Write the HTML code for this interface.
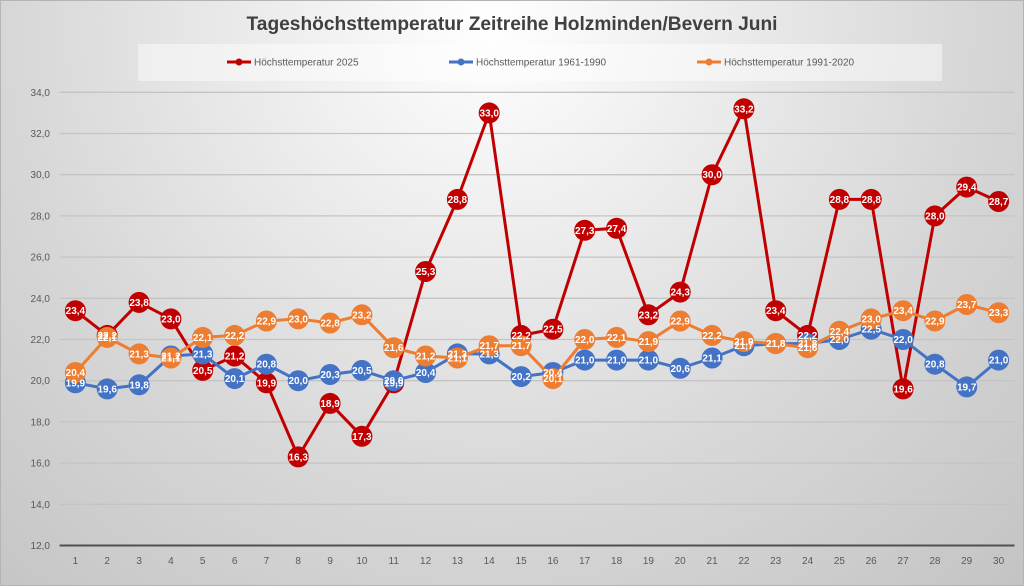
<!DOCTYPE html>
<html><head><meta charset="utf-8"><style>
html,body{margin:0;padding:0;width:1024px;height:586px;overflow:hidden;}
svg{display:block;font-family:"Liberation Sans",sans-serif;}
.yl{font-size:10px;fill:#595959;text-anchor:end;}
.xl{font-size:10px;fill:#595959;text-anchor:middle;}
.dl text{font-size:10px;font-weight:bold;fill:#fff;text-anchor:middle;}
.lg{font-size:10px;fill:#595959;}
</style></head><body>
<svg width="1024" height="586" viewBox="0 0 1024 586" xmlns="http://www.w3.org/2000/svg">
<defs>
<radialGradient id="bg" gradientUnits="userSpaceOnUse" cx="490" cy="20" r="800">
<stop offset="0" stop-color="#ffffff"/>
<stop offset="0.6" stop-color="#d7d7d7"/>
<stop offset="1" stop-color="#c2c2c2"/>
</radialGradient>
</defs>
<rect x="0" y="0" width="1024" height="586" fill="url(#bg)"/>
<rect x="0.5" y="0.5" width="1023" height="585" fill="none" stroke="#b4b4b4" stroke-width="1"/>

<text x="512" y="30" text-anchor="middle" font-size="19" font-weight="bold" fill="#404040" textLength="531" lengthAdjust="spacingAndGlyphs">Tageshöchsttemperatur Zeitreihe Holzminden/Bevern Juni</text>

<!-- legend -->
<rect x="138" y="44" width="804" height="37" fill="#ffffff" fill-opacity="0.45"/>
<line x1="227" y1="62" x2="251" y2="62" stroke="#C00000" stroke-width="3"/>
<circle cx="239" cy="62" r="3.5" fill="#C00000"/>
<text class="lg" x="254" y="65.5">Höchsttemperatur 2025</text>
<line x1="449" y1="62" x2="473" y2="62" stroke="#4472C4" stroke-width="3"/>
<circle cx="461" cy="62" r="3.5" fill="#4472C4"/>
<text class="lg" x="476" y="65.5">Höchsttemperatur 1961-1990</text>
<line x1="697" y1="62" x2="721" y2="62" stroke="#ED7D31" stroke-width="3"/>
<circle cx="709" cy="62" r="3.5" fill="#ED7D31"/>
<text class="lg" x="724" y="65.5">Höchsttemperatur 1991-2020</text>

<!-- gridlines -->
<g stroke="#c4c4c4" stroke-width="1.3">
<line x1="59.5" y1="92.3" x2="1014.5" y2="92.3"/>
<line x1="59.5" y1="133.5" x2="1014.5" y2="133.5"/>
<line x1="59.5" y1="174.7" x2="1014.5" y2="174.7"/>
<line x1="59.5" y1="215.9" x2="1014.5" y2="215.9"/>
<line x1="59.5" y1="257.1" x2="1014.5" y2="257.1"/>
<line x1="59.5" y1="298.3" x2="1014.5" y2="298.3"/>
<line x1="59.5" y1="339.5" x2="1014.5" y2="339.5"/>
<line x1="59.5" y1="380.7" x2="1014.5" y2="380.7"/>
<line x1="59.5" y1="421.9" x2="1014.5" y2="421.9"/>
<line x1="59.5" y1="463.1" x2="1014.5" y2="463.1"/>
<line x1="59.5" y1="504.3" x2="1014.5" y2="504.3"/>
</g>
<line x1="59.5" y1="545.5" x2="1014.5" y2="545.5" stroke="#505050" stroke-width="2"/>

<!-- y labels -->
<text class="yl" x="50" y="95.8">34,0</text>
<text class="yl" x="50" y="137">32,0</text>
<text class="yl" x="50" y="178.2">30,0</text>
<text class="yl" x="50" y="219.4">28,0</text>
<text class="yl" x="50" y="260.6">26,0</text>
<text class="yl" x="50" y="301.8">24,0</text>
<text class="yl" x="50" y="343">22,0</text>
<text class="yl" x="50" y="384.2">20,0</text>
<text class="yl" x="50" y="425.4">18,0</text>
<text class="yl" x="50" y="466.6">16,0</text>
<text class="yl" x="50" y="507.8">14,0</text>
<text class="yl" x="50" y="549">12,0</text>

<!-- x labels -->
<g class="xl">
<text x="75.4" y="564">1</text><text x="107.2" y="564">2</text><text x="139.1" y="564">3</text><text x="170.9" y="564">4</text><text x="202.7" y="564">5</text>
<text x="234.6" y="564">6</text><text x="266.4" y="564">7</text><text x="298.2" y="564">8</text><text x="330.1" y="564">9</text><text x="361.9" y="564">10</text>
<text x="393.7" y="564">11</text><text x="425.6" y="564">12</text><text x="457.4" y="564">13</text><text x="489.2" y="564">14</text><text x="521.1" y="564">15</text>
<text x="552.9" y="564">16</text><text x="584.7" y="564">17</text><text x="616.6" y="564">18</text><text x="648.4" y="564">19</text><text x="680.2" y="564">20</text>
<text x="712.1" y="564">21</text><text x="743.9" y="564">22</text><text x="775.7" y="564">23</text><text x="807.6" y="564">24</text><text x="839.4" y="564">25</text>
<text x="871.2" y="564">26</text><text x="903.1" y="564">27</text><text x="934.9" y="564">28</text><text x="966.7" y="564">29</text><text x="998.6" y="564">30</text>
</g>

<!-- red series -->
<polyline fill="none" stroke="#C00000" stroke-width="3" stroke-linejoin="round" points="75.4,310.7 107.2,335.4 139.1,302.4 170.9,318.9 202.7,370.4 234.6,356 266.4,382.8 298.2,456.9 330.1,403.4 361.9,436.3 393.7,382.8 425.6,271.5 457.4,199.4 489.2,112.9 521.1,335.4 552.9,329.2 584.7,230.3 616.6,228.3 648.4,314.8 680.2,292.1 712.1,174.7 743.9,108.8 775.7,310.7 807.6,335.4 839.4,199.4 871.2,199.4 903.1,388.9 934.9,215.9 966.7,187.1 998.6,201.5"/>
<g fill="#C00000">
<circle cx="75.4" cy="310.7" r="10.5"/><circle cx="107.2" cy="335.4" r="10.5"/><circle cx="139.1" cy="302.4" r="10.5"/><circle cx="170.9" cy="318.9" r="10.5"/><circle cx="202.7" cy="370.4" r="10.5"/>
<circle cx="234.6" cy="356" r="10.5"/><circle cx="266.4" cy="382.8" r="10.5"/><circle cx="298.2" cy="456.9" r="10.5"/><circle cx="330.1" cy="403.4" r="10.5"/><circle cx="361.9" cy="436.3" r="10.5"/>
<circle cx="393.7" cy="382.8" r="10.5"/><circle cx="425.6" cy="271.5" r="10.5"/><circle cx="457.4" cy="199.4" r="10.5"/><circle cx="489.2" cy="112.9" r="10.5"/><circle cx="521.1" cy="335.4" r="10.5"/>
<circle cx="552.9" cy="329.2" r="10.5"/><circle cx="584.7" cy="230.3" r="10.5"/><circle cx="616.6" cy="228.3" r="10.5"/><circle cx="648.4" cy="314.8" r="10.5"/><circle cx="680.2" cy="292.1" r="10.5"/>
<circle cx="712.1" cy="174.7" r="10.5"/><circle cx="743.9" cy="108.8" r="10.5"/><circle cx="775.7" cy="310.7" r="10.5"/><circle cx="807.6" cy="335.4" r="10.5"/><circle cx="839.4" cy="199.4" r="10.5"/>
<circle cx="871.2" cy="199.4" r="10.5"/><circle cx="903.1" cy="388.9" r="10.5"/><circle cx="934.9" cy="215.9" r="10.5"/><circle cx="966.7" cy="187.1" r="10.5"/><circle cx="998.6" cy="201.5" r="10.5"/>
</g>

<!-- blue series -->
<polyline fill="none" stroke="#4472C4" stroke-width="3" stroke-linejoin="round" points="75.4,382.8 107.2,388.9 139.1,384.8 170.9,356 202.7,353.9 234.6,378.6 266.4,364.2 298.2,380.7 330.1,374.5 361.9,370.4 393.7,380.7 425.6,372.5 457.4,353.9 489.2,353.9 521.1,376.6 552.9,372.5 584.7,360.1 616.6,360.1 648.4,360.1 680.2,368.3 712.1,358 743.9,345.7 775.7,343.6 807.6,343.6 839.4,339.5 871.2,329.2 903.1,339.5 934.9,364.2 966.7,386.9 998.6,360.1"/>
<g fill="#4472C4">
<circle cx="75.4" cy="382.8" r="10.5"/><circle cx="107.2" cy="388.9" r="10.5"/><circle cx="139.1" cy="384.8" r="10.5"/><circle cx="170.9" cy="356" r="10.5"/><circle cx="202.7" cy="353.9" r="10.5"/>
<circle cx="234.6" cy="378.6" r="10.5"/><circle cx="266.4" cy="364.2" r="10.5"/><circle cx="298.2" cy="380.7" r="10.5"/><circle cx="330.1" cy="374.5" r="10.5"/><circle cx="361.9" cy="370.4" r="10.5"/>
<circle cx="393.7" cy="380.7" r="10.5"/><circle cx="425.6" cy="372.5" r="10.5"/><circle cx="457.4" cy="353.9" r="10.5"/><circle cx="489.2" cy="353.9" r="10.5"/><circle cx="521.1" cy="376.6" r="10.5"/>
<circle cx="552.9" cy="372.5" r="10.5"/><circle cx="584.7" cy="360.1" r="10.5"/><circle cx="616.6" cy="360.1" r="10.5"/><circle cx="648.4" cy="360.1" r="10.5"/><circle cx="680.2" cy="368.3" r="10.5"/>
<circle cx="712.1" cy="358" r="10.5"/><circle cx="743.9" cy="345.7" r="10.5"/><circle cx="775.7" cy="343.6" r="10.5"/><circle cx="807.6" cy="343.6" r="10.5"/><circle cx="839.4" cy="339.5" r="10.5"/>
<circle cx="871.2" cy="329.2" r="10.5"/><circle cx="903.1" cy="339.5" r="10.5"/><circle cx="934.9" cy="364.2" r="10.5"/><circle cx="966.7" cy="386.9" r="10.5"/><circle cx="998.6" cy="360.1" r="10.5"/>
</g>

<!-- orange series -->
<polyline fill="none" stroke="#ED7D31" stroke-width="3" stroke-linejoin="round" points="75.4,372.5 107.2,337.4 139.1,353.9 170.9,358 202.7,337.4 234.6,335.4 266.4,321 298.2,318.9 330.1,323 361.9,314.8 393.7,347.7 425.6,356 457.4,358 489.2,345.7 521.1,345.7 552.9,378.6 584.7,339.5 616.6,337.4 648.4,341.6 680.2,321 712.1,335.4 743.9,341.6 775.7,343.6 807.6,347.7 839.4,331.3 871.2,318.9 903.1,310.7 934.9,321 966.7,304.5 998.6,312.7"/>
<g fill="#ED7D31">
<circle cx="75.4" cy="372.5" r="10.5"/><circle cx="107.2" cy="337.4" r="10.5"/><circle cx="139.1" cy="353.9" r="10.5"/><circle cx="170.9" cy="358" r="10.5"/><circle cx="202.7" cy="337.4" r="10.5"/>
<circle cx="234.6" cy="335.4" r="10.5"/><circle cx="266.4" cy="321" r="10.5"/><circle cx="298.2" cy="318.9" r="10.5"/><circle cx="330.1" cy="323" r="10.5"/><circle cx="361.9" cy="314.8" r="10.5"/>
<circle cx="393.7" cy="347.7" r="10.5"/><circle cx="425.6" cy="356" r="10.5"/><circle cx="457.4" cy="358" r="10.5"/><circle cx="489.2" cy="345.7" r="10.5"/><circle cx="521.1" cy="345.7" r="10.5"/>
<circle cx="552.9" cy="378.6" r="10.5"/><circle cx="584.7" cy="339.5" r="10.5"/><circle cx="616.6" cy="337.4" r="10.5"/><circle cx="648.4" cy="341.6" r="10.5"/><circle cx="680.2" cy="321" r="10.5"/>
<circle cx="712.1" cy="335.4" r="10.5"/><circle cx="743.9" cy="341.6" r="10.5"/><circle cx="775.7" cy="343.6" r="10.5"/><circle cx="807.6" cy="347.7" r="10.5"/><circle cx="839.4" cy="331.3" r="10.5"/>
<circle cx="871.2" cy="318.9" r="10.5"/><circle cx="903.1" cy="310.7" r="10.5"/><circle cx="934.9" cy="321" r="10.5"/><circle cx="966.7" cy="304.5" r="10.5"/><circle cx="998.6" cy="312.7" r="10.5"/>
</g>

<!-- data labels -->
<g class="dl">
<!-- red -->
<text x="75.4" y="314.2">23,4</text><text x="107.2" y="338.9">22,2</text><text x="139.1" y="305.9">23,8</text><text x="170.9" y="322.4">23,0</text><text x="202.7" y="373.9">20,5</text>
<text x="234.6" y="359.5">21,2</text><text x="266.4" y="386.3">19,9</text><text x="298.2" y="460.4">16,3</text><text x="330.1" y="406.9">18,9</text><text x="361.9" y="439.8">17,3</text>
<text x="393.7" y="386.3">19,9</text><text x="425.6" y="275">25,3</text><text x="457.4" y="202.9">28,8</text><text x="489.2" y="116.4">33,0</text><text x="521.1" y="338.9">22,2</text>
<text x="552.9" y="332.7">22,5</text><text x="584.7" y="233.8">27,3</text><text x="616.6" y="231.8">27,4</text><text x="648.4" y="318.3">23,2</text><text x="680.2" y="295.6">24,3</text>
<text x="712.1" y="178.2">30,0</text><text x="743.9" y="112.3">33,2</text><text x="775.7" y="314.2">23,4</text><text x="807.6" y="338.9">22,2</text><text x="839.4" y="202.9">28,8</text>
<text x="871.2" y="202.9">28,8</text><text x="903.1" y="392.4">19,6</text><text x="934.9" y="219.4">28,0</text><text x="966.7" y="190.6">29,4</text><text x="998.6" y="205">28,7</text>
<!-- blue -->
<text x="75.4" y="386.3">19,9</text><text x="107.2" y="392.4">19,6</text><text x="139.1" y="388.3">19,8</text><text x="170.9" y="359.5">21,2</text><text x="202.7" y="357.4">21,3</text>
<text x="234.6" y="382.1">20,1</text><text x="266.4" y="367.7">20,8</text><text x="298.2" y="384.2">20,0</text><text x="330.1" y="378">20,3</text><text x="361.9" y="373.9">20,5</text>
<text x="393.7" y="384.2">20,0</text><text x="425.6" y="376">20,4</text><text x="457.4" y="357.4">21,3</text><text x="489.2" y="357.4">21,3</text><text x="521.1" y="380.1">20,2</text>
<text x="552.9" y="376">20,4</text><text x="584.7" y="363.6">21,0</text><text x="616.6" y="363.6">21,0</text><text x="648.4" y="363.6">21,0</text><text x="680.2" y="371.8">20,6</text>
<text x="712.1" y="361.5">21,1</text><text x="743.9" y="349.2">21,7</text><text x="775.7" y="347.1">21,8</text><text x="807.6" y="347.1">21,8</text><text x="839.4" y="343">22,0</text>
<text x="871.2" y="332.7">22,5</text><text x="903.1" y="343">22,0</text><text x="934.9" y="367.7">20,8</text><text x="966.7" y="390.4">19,7</text><text x="998.6" y="363.6">21,0</text>
<!-- orange -->
<text x="75.4" y="376">20,4</text><text x="107.2" y="340.9">22,1</text><text x="139.1" y="357.4">21,3</text><text x="170.9" y="361.5">21,1</text><text x="202.7" y="340.9">22,1</text>
<text x="234.6" y="338.9">22,2</text><text x="266.4" y="324.5">22,9</text><text x="298.2" y="322.4">23,0</text><text x="330.1" y="326.5">22,8</text><text x="361.9" y="318.3">23,2</text>
<text x="393.7" y="351.2">21,6</text><text x="425.6" y="359.5">21,2</text><text x="457.4" y="361.5">21,1</text><text x="489.2" y="349.2">21,7</text><text x="521.1" y="349.2">21,7</text>
<text x="552.9" y="382.1">20,1</text><text x="584.7" y="343">22,0</text><text x="616.6" y="340.9">22,1</text><text x="648.4" y="345.1">21,9</text><text x="680.2" y="324.5">22,9</text>
<text x="712.1" y="338.9">22,2</text><text x="743.9" y="345.1">21,9</text><text x="775.7" y="347.1">21,8</text><text x="807.6" y="351.2">21,6</text><text x="839.4" y="334.8">22,4</text>
<text x="871.2" y="322.4">23,0</text><text x="903.1" y="314.2">23,4</text><text x="934.9" y="324.5">22,9</text><text x="966.7" y="308">23,7</text><text x="998.6" y="316.2">23,3</text>
</g>
</svg>
</body></html>
